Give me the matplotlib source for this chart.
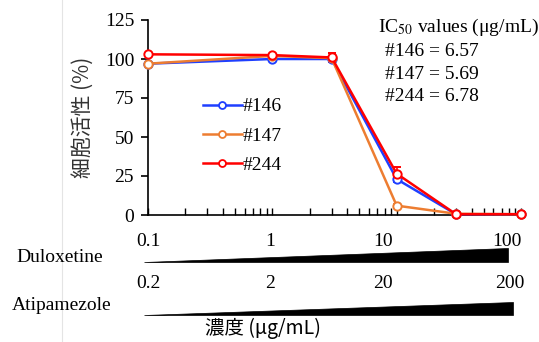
import matplotlib
matplotlib.use("Agg")
import matplotlib.pyplot as plt
from matplotlib.lines import Line2D
from matplotlib.patches import Polygon
from matplotlib.ticker import LogLocator, NullFormatter

plt.rcParams['font.family'] = ['Liberation Serif', 'Noto Sans CJK JP']
plt.rcParams['mathtext.fontset'] = 'stix'

# Concentrations (ug/mL, Duloxetine scale)
conc = [0.1, 1, 3, 10, 30, 100]
series_names = ["#146", "#147", "#244"]
viab_146 = [97.0, 100.0, 100.0, 23.0, 0.5, 0.5]
viab_147 = [97.0, 102.0, 100.5, 6.0, 0.8, 0.5]
viab_244 = [103.0, 102.5, 101.0, 26.5, 0.5, 0.5]
err_146 = [0.5, 1.0, 1.5, 2.0, 0.3, 0.3]
err_147 = [0.5, 1.0, 1.0, 1.0, 0.3, 0.3]
err_244 = [0.5, 1.0, 3.0, 4.0, 0.3, 0.3]
colors = ["#1f3fff", "#ed7d31", "#ff0000"]

ic50_title = "IC$_{50}$ values (μg/mL)"
ic50_values = [6.57, 5.69, 6.78]

dulox_labels = ["0.1", "1", "10", "100"]
atip_labels = ["0.2", "2", "20", "200"]

FS = 14
W, H = 539, 342
fig = plt.figure(figsize=(W / 100, H / 100), dpi=100)

# faint page margin line
fig.add_artist(Line2D([62 / W, 62 / W], [0, 1], color="#e4e4e4", lw=0.8,
                      transform=fig.transFigure))

ax = fig.add_axes([148 / W, 1 - 215 / H, (521 - 148) / W, (215 - 20) / H])
ax.set_xscale("log")
ax.set_xlim(0.1, 100)
ax.set_ylim(0, 125)
ax.set_yticks([0, 25, 50, 75, 100, 125])
for s in ["top", "right"]:
    ax.spines[s].set_visible(False)
for s in ["left", "bottom"]:
    ax.spines[s].set_linewidth(1.2)
ax.tick_params(axis="y", direction="out", length=5, width=1.2, labelsize=FS, pad=5)
ax.tick_params(axis="x", which="both", direction="in", length=5, width=1.0,
               labelbottom=False)
ax.xaxis.set_major_locator(LogLocator(base=10, numticks=10))
ax.xaxis.set_minor_locator(LogLocator(base=10, subs=range(2, 10), numticks=30))
ax.xaxis.set_minor_formatter(NullFormatter())

for name, ys, es, c in zip(series_names, [viab_146, viab_147, viab_244],
                           [err_146, err_147, err_244], colors):
    ax.errorbar(conc, ys, yerr=es, color=c, lw=1.8, marker="o", ms=6,
                mfc="white", mec=c, mew=1.4, capsize=3, elinewidth=1.2,
                label=name, clip_on=False, zorder=3)

handles = [Line2D([], [], color=c, lw=1.8, marker="o", ms=5, mfc="white",
                  mec=c, mew=1.3) for c in colors]
ax.legend(handles, series_names, loc="upper left",
          bbox_to_anchor=(47 / (521 - 148), (215 - 90) / (215 - 20)),
          frameon=False, fontsize=FS, handlelength=2.0, handletextpad=0.05,
          labelspacing=0.6, borderaxespad=0)

ax.set_ylabel("細胞活性 (%)", fontsize=15, labelpad=8,
              family=['Noto Sans CJK JP', 'Liberation Serif'], color="#333333")

ax.text(0.617, 0.96, ic50_title, transform=ax.transAxes, fontsize=FS,
        va="center", ha="left")
for i, (n, v) in enumerate(zip(series_names, ic50_values)):
    ax.text(0.635, 0.84 - i * 0.117, f"{n} = {v:.2f}", transform=ax.transAxes,
            fontsize=FS, va="center", ha="left")

# concentration wedges
def wedge(x0, x1, ybot, ytop):
    fig.add_artist(Polygon([(x0 / W, 1 - ybot / H), (x1 / W, 1 - ybot / H),
                            (x1 / W, 1 - ytop / H)], closed=True,
                           facecolor="black", edgecolor="black", lw=0.5,
                           transform=fig.transFigure))

wedge(144, 508, 262, 248)
wedge(144, 513, 315, 302)

label_x = [148, 270, 383, 507]
for lx, t in zip(label_x, dulox_labels):
    fig.text(lx / W, 1 - 241 / H, t, ha="center", va="center", fontsize=FS)
for lx, t in zip([148, 270, 383, 510], atip_labels):
    fig.text(lx / W, 1 - 283 / H, t, ha="center", va="center", fontsize=FS)

fig.text(60 / W, 1 - 258 / H, "Duloxetine", ha="center", va="center", fontsize=FS)
fig.text(62 / W, 1 - 306 / H, "Atipamezole", ha="center", va="center", fontsize=FS)
fig.text(263 / W, 1 - 328 / H, "濃度 (μg/mL)", ha="center", va="center",
         fontsize=FS, family=['Noto Sans CJK JP', 'Liberation Serif'])

fig.savefig("out.png", dpi=100)
